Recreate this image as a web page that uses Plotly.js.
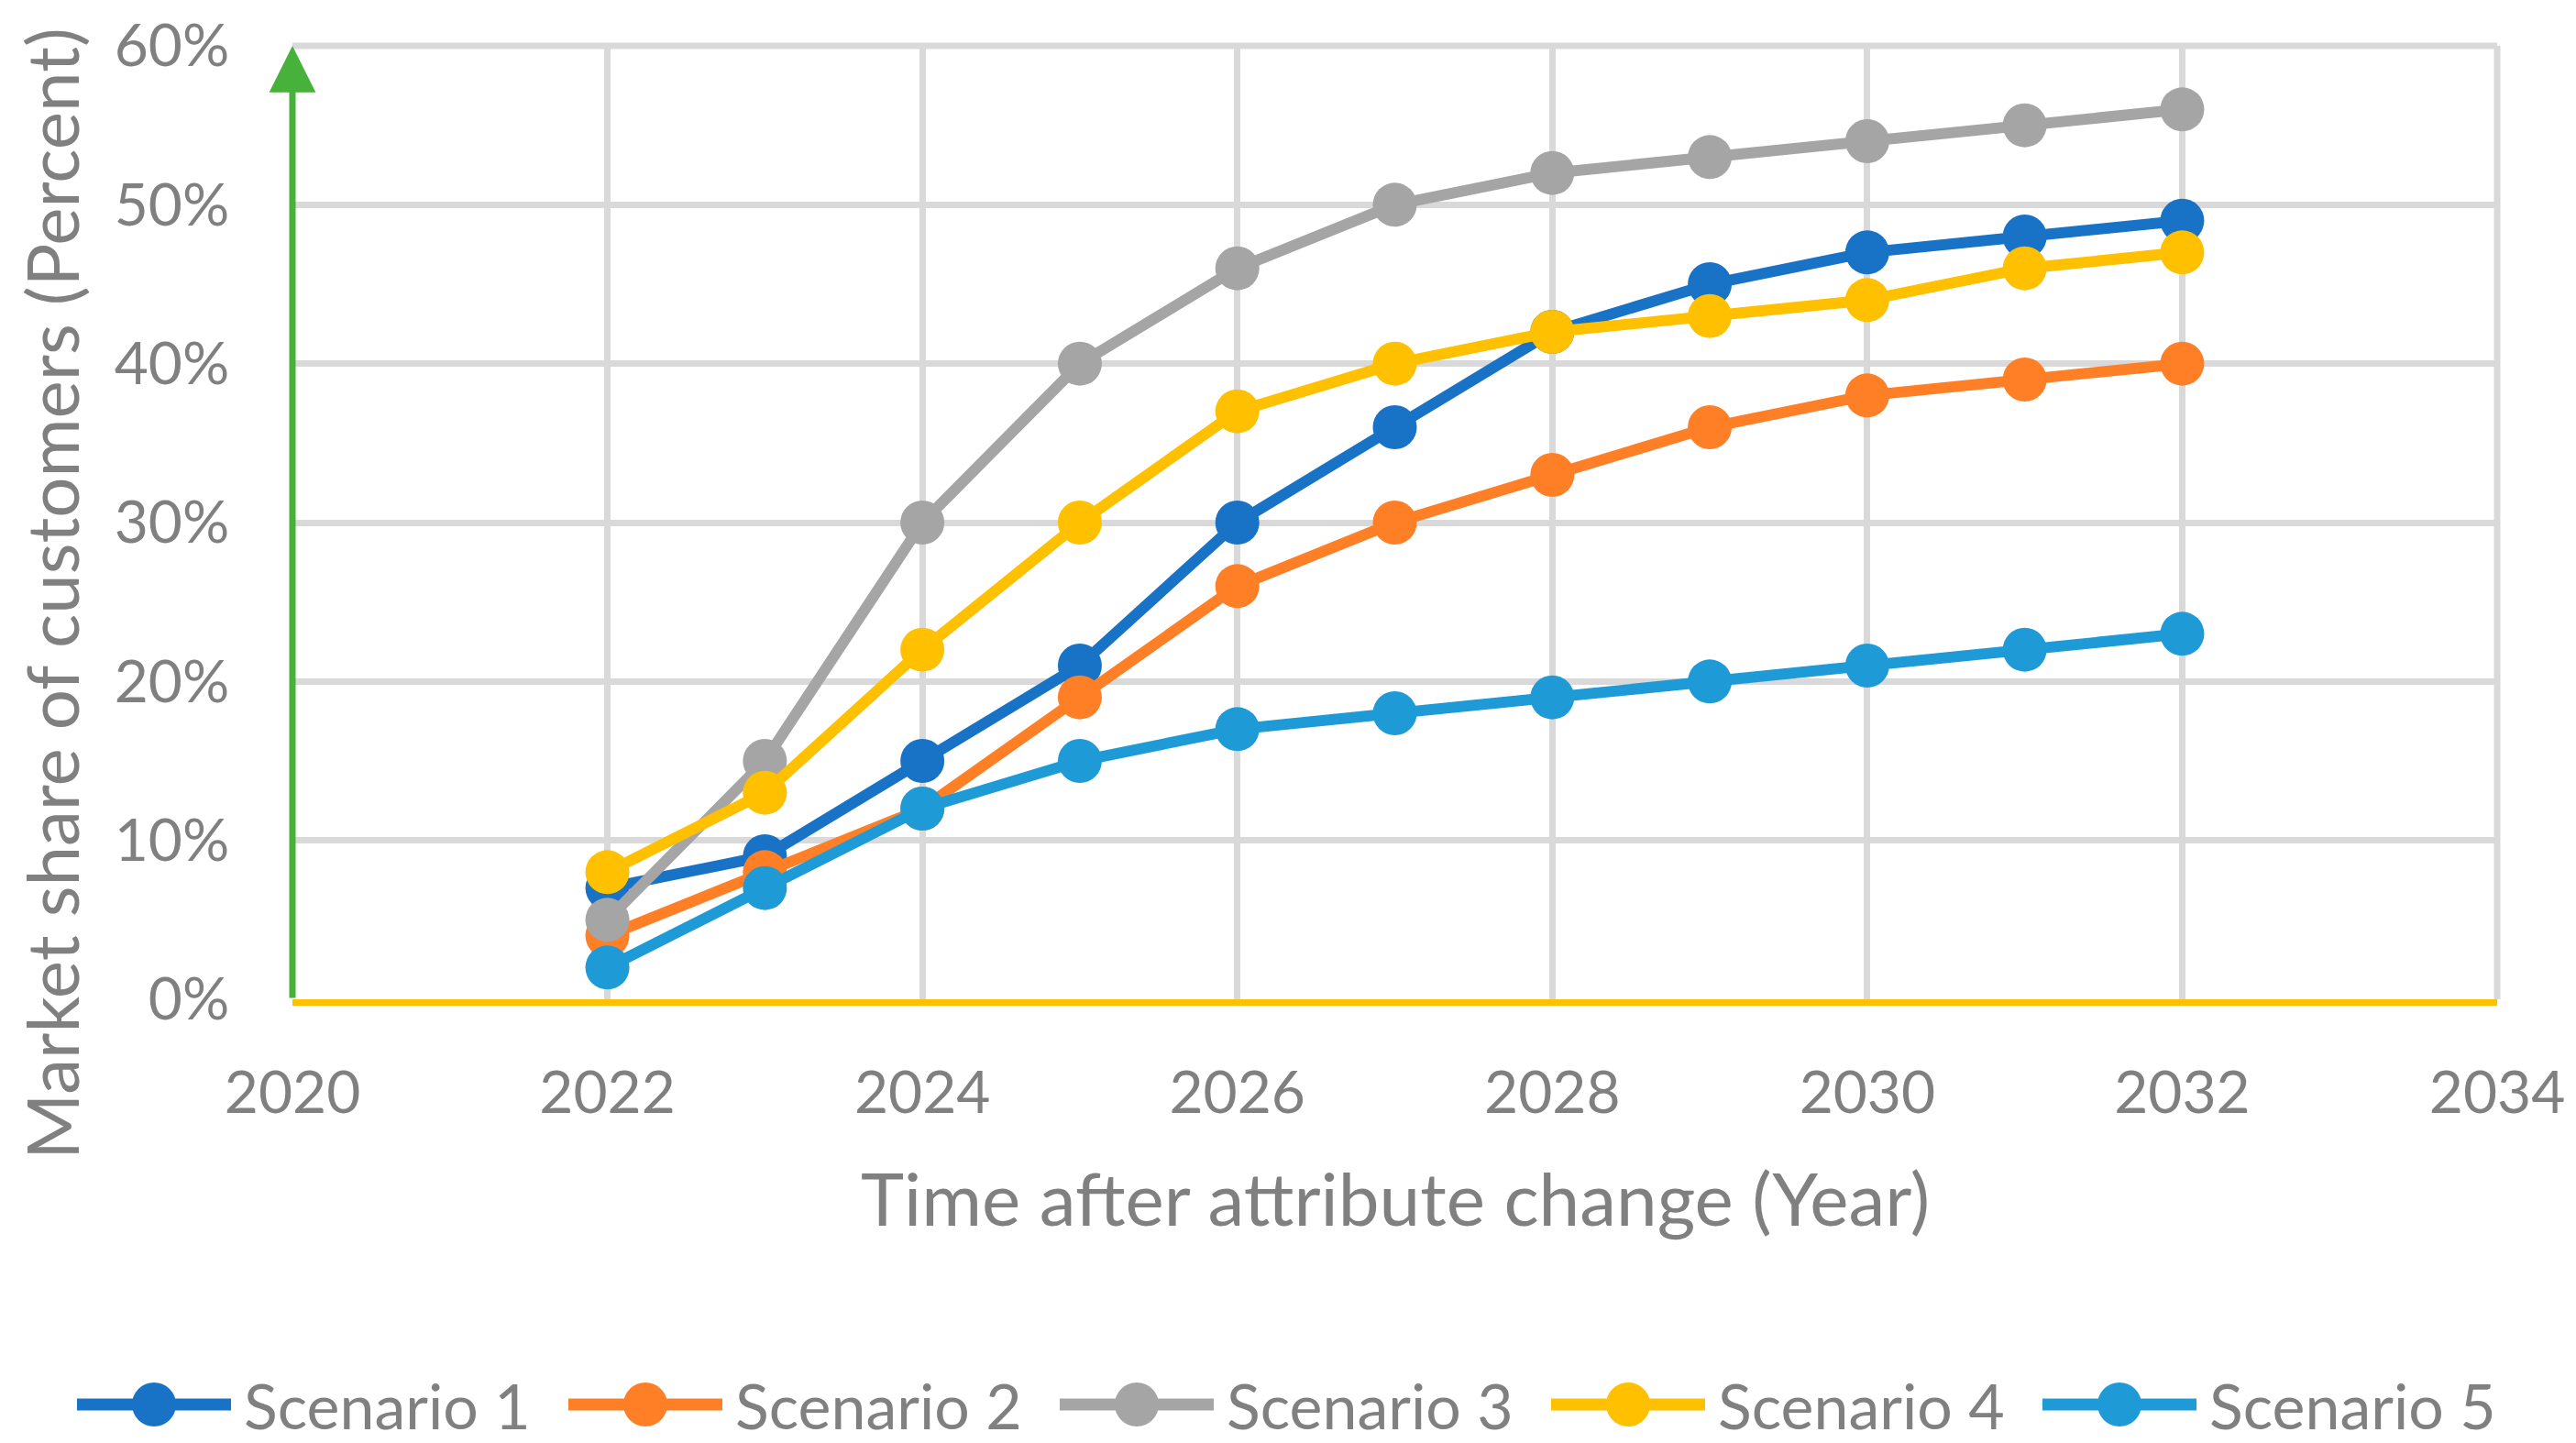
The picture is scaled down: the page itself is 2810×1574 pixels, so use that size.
<!DOCTYPE html>
<html>
<head>
<meta charset="utf-8">
<script src="https://cdn.plot.ly/plotly-3.0.1.min.js"></script>
<style>
  html, body { margin: 0; padding: 0; background: #ffffff; }
  #chart { width: 2810px; height: 1574px; }
</style>
</head>
<body>
<div id="chart"></div>
<script>
const years = [2022, 2023, 2024, 2025, 2026, 2027, 2028, 2029, 2030, 2031, 2032];
const scenario1 = [7, 9, 15, 21, 30, 36, 42, 45, 47, 48, 49];
const scenario2 = [4, 8, 12, 19, 26, 30, 33, 36, 38, 39, 40];
const scenario3 = [5, 15, 30, 40, 46, 50, 52, 53, 54, 55, 56];
const scenario4 = [8, 13, 22, 30, 37, 40, 42, 43, 44, 46, 47];
const scenario5 = [2, 7, 12, 15, 17, 18, 19, 20, 21, 22, 23];
const seriesNames = ["Scenario 1", "Scenario 2", "Scenario 3", "Scenario 4", "Scenario 5"];
const seriesColors = ["#1872C5", "#FF7F27", "#A5A5A5", "#FFC000", "#1E9BD7"];
const xTicks = [2020, 2022, 2024, 2026, 2028, 2030, 2032, 2034];
const yTicks = [0, 10, 20, 30, 40, 50, 60];

const allSeries = [scenario1, scenario2, scenario3, scenario4, scenario5];
const FONT = "Lato, 'Open Sans', sans-serif";
const GRAY = "#808080";

// plot area geometry (pixels)
const W = 2810, H = 1574;
const M = { l: 319, r: 86, t: 50, b: 484 };
const PW = W - M.l - M.r, PH = H - M.t - M.b;
const px2paperX = px => (px - M.l) / PW;
const px2paperY = py => (H - M.b - py) / PH;

const traces = allSeries.map((vals, i) => ({
  type: "scatter",
  mode: "lines+markers",
  x: years,
  y: vals,
  name: seriesNames[i],
  line: { color: seriesColors[i], width: 12 },
  marker: { color: seriesColors[i], size: 48 },
  cliponaxis: false,
  showlegend: false
}));

// custom legend (Excel style: long line with large marker)
const legendShapes = [];
const legendAnnots = [];
const LEG_Y = px2paperY(1532);
seriesNames.forEach((name, i) => {
  const x0 = 84 + 536 * i;
  legendShapes.push({
    type: "line", xref: "paper", yref: "paper",
    x0: px2paperX(x0), x1: px2paperX(x0 + 168), y0: LEG_Y, y1: LEG_Y,
    line: { color: seriesColors[i], width: 13 }, layer: "above"
  });
  legendShapes.push({
    type: "circle", xref: "paper", yref: "paper",
    xsizemode: "pixel", ysizemode: "pixel",
    xanchor: px2paperX(x0 + 84), yanchor: LEG_Y,
    x0: -24, x1: 24, y0: -24, y1: 24,
    fillcolor: seriesColors[i], line: { width: 0 }, layer: "above"
  });
  legendAnnots.push({
    text: name, xref: "paper", yref: "paper",
    x: px2paperX(x0 + 180), y: LEG_Y, xanchor: "left", yanchor: "middle",
    showarrow: false, font: { size: 68, color: GRAY, family: FONT }
  });
});

const layout = {
  width: W,
  height: H,
  paper_bgcolor: "#ffffff",
  plot_bgcolor: "#ffffff",
  margin: { l: M.l, r: M.r, t: M.t, b: M.b, autoexpand: false },
  font: { family: FONT, color: GRAY },
  showlegend: false,
  xaxis: {
    range: [2020, 2034],
    tickvals: xTicks,
    ticktext: xTicks.map(String),
    showgrid: true,
    gridcolor: "#D9D9D9",
    gridwidth: 7,
    zeroline: false,
    showline: true,
    linecolor: "#FFC000",
    linewidth: 7,
    ticks: "outside",
    ticklen: 40,
    tickcolor: "rgba(0,0,0,0)",
    tickfont: { size: 64, color: GRAY, family: FONT }
  },
  yaxis: {
    range: [0, 60],
    tickvals: yTicks,
    ticktext: yTicks.map(v => v + "%"),
    showgrid: true,
    gridcolor: "#D9D9D9",
    gridwidth: 7,
    zeroline: false,
    showline: false,
    ticks: "outside",
    ticklen: 55,
    tickcolor: "rgba(0,0,0,0)",
    tickfont: { size: 64, color: GRAY, family: FONT }
  },
  shapes: [
    { type: "line", xref: "paper", yref: "paper", x0: 0, x1: 1, y0: 1, y1: 1, line: { color: "#D9D9D9", width: 7 }, layer: "below" },
    { type: "line", xref: "paper", yref: "paper", x0: 1, x1: 1, y0: 0, y1: 1, line: { color: "#D9D9D9", width: 7 }, layer: "below" }
  ].concat(legendShapes),
  annotations: [
    {
      x: 2020, y: 60, xref: "x", yref: "y",
      ax: 2020, ay: 0, axref: "x", ayref: "y",
      text: "", showarrow: true,
      arrowhead: 2, arrowsize: 1.45, arrowwidth: 7,
      arrowcolor: "#47B13B", standoff: 0
    },
    {
      text: "Time after attribute change (Year)",
      xref: "paper", yref: "paper", x: 0.5, y: px2paperY(1306),
      xanchor: "center", yanchor: "middle", showarrow: false,
      font: { size: 80, color: GRAY, family: FONT }
    },
    {
      text: "Market share of customers (Percent)",
      xref: "paper", yref: "paper", x: px2paperX(56), y: px2paperY(648),
      xanchor: "center", yanchor: "middle", showarrow: false, textangle: -90,
      font: { size: 78, color: GRAY, family: FONT }
    }
  ].concat(legendAnnots)
};

Plotly.newPlot("chart", traces, layout, { displayModeBar: false, staticPlot: true });
</script>
</body>
</html>
